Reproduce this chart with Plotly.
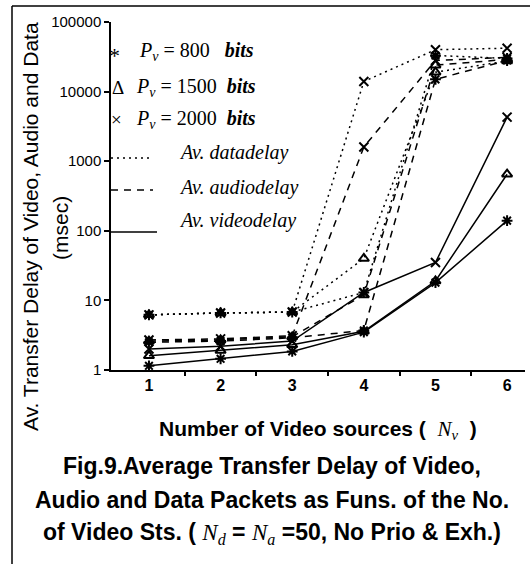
import plotly.graph_objects as go

# ---------------- data ----------------
n_video = [1, 2, 3, 4, 5, 6]
x_ticks = [1, 2, 3, 4, 5, 6]
y_ticks = [1, 10, 100, 1000, 10000, 100000]
y_ticktext = ["1", "10", "100", "1000", "10000", "100000"]

data_800 = [6.2, 6.6, 6.8, 13, 33000, 30000]
data_1500 = [6.2, 6.6, 6.8, 40, 19000, 27500]
data_2000 = [6.2, 6.6, 6.8, 14000, 40000, 42000]

audio_800 = [2.5, 2.6, 2.9, 3.7, 15000, 28000]
audio_1500 = [2.6, 2.7, 3.0, 12, 24000, 29000]
audio_2000 = [2.7, 2.8, 3.1, 1600, 28000, 31000]

video_800 = [1.15, 1.45, 1.85, 3.5, 18, 140]
video_1500 = [1.6, 1.9, 2.3, 3.6, 19, 650]
video_2000 = [2.0, 2.2, 2.6, 13, 35, 4300]

# ---------------- geometry helpers (pixels -> paper) ----------------
W, H = 530, 564
L, R, T, B = 111, 5, 22, 194
PW, PH = W - L - R, H - T - B


def px(x):
    return (x - L) / PW


def py(y):
    return (H - B - y) / PH


DOT = "2px,4px"
DASH = "7px,6px"
sym = {"800": "asterisk-open", "1500": "triangle-up-open", "2000": "x-thin-open"}

series = [
    (data_800, DOT, "800"), (data_1500, DOT, "1500"), (data_2000, DOT, "2000"),
    (audio_800, DASH, "800"), (audio_1500, DASH, "1500"), (audio_2000, DASH, "2000"),
    (video_800, "solid", "800"), (video_1500, "solid", "1500"), (video_2000, "solid", "2000"),
]

fig = go.Figure()
for vals, dash, p in series:
    fig.add_trace(go.Scatter(
        x=n_video, y=vals, mode="lines+markers",
        line=dict(color="black", width=1.5, dash=dash),
        marker=dict(symbol=sym[p], size=9, color="black",
                    line=dict(color="black", width=2)),
        showlegend=False, hoverinfo="skip"))

SANS = "Liberation Sans, Arial, sans-serif"
SERIF = "Liberation Serif, Times New Roman, serif"

ann = []
# y-axis title
ann.append(dict(text="Av. Transfer Delay of Video, Audio and Data", x=px(30), y=py(227),
                textangle=-90, font=dict(family=SANS, size=21, color="black")))
ann.append(dict(text="(msec)", x=px(60), y=py(228), textangle=-90,
                font=dict(family=SANS, size=21, color="black")))
# x-axis title
ann.append(dict(text="<b>Number of Video sources (  </b><span style='font-family:Liberation Serif'><i>N<sub>v</sub></i></span><b>  )</b>",
                x=px(318), y=py(430), font=dict(family=SANS, size=21, color="black")))
# caption
cap = [
    ("<b>Fig.9.Average Transfer Delay of Video,</b>", 466),
    ("<b>Audio and Data Packets as Funs. of the No.</b>", 500),
    ("<b>of Video Sts. ( </b><span style='font-family:Liberation Serif'><i>N<sub>d</sub></i></span><b> = </b>"
     "<span style='font-family:Liberation Serif'><i>N<sub>a</sub></i></span><b> =50, No Prio &amp; Exh.)</b>", 533),
]
for t, yy in cap:
    ann.append(dict(text=t, x=px(272), y=py(yy), font=dict(family=SANS, size=23, color="black")))

# legend (drawn as text + line samples)
leg_font = dict(family=SERIF, size=20, color="black")
ann.append(dict(text="*", x=px(114), y=py(55), font=dict(family=SERIF, size=22, color="black")))
ann.append(dict(text="Δ", x=px(118), y=py(87), font=dict(family=SERIF, size=19, color="black")))
ann.append(dict(text="×", x=px(116), y=py(119), font=dict(family=SERIF, size=19, color="black")))
for t, xx, yy in [
    ("<i>P<sub>v</sub></i> = 800   <b><i>bits</i></b>", 137, 51),
    ("<i>P<sub>v</sub></i> = 1500  <b><i>bits</i></b>", 134, 87),
    ("<i>P<sub>v</sub></i> = 2000  <b><i>bits</i></b>", 134, 119),
    ("<i>Av. datadelay</i>", 177, 153),
    ("<i>Av. audiodelay</i>", 177, 187),
    ("<i>Av. videodelay</i>", 177, 220),
]:
    ann.append(dict(text=t, x=px(xx), y=py(yy), xanchor="left", font=leg_font))

for a in ann:
    a.setdefault("xanchor", "center")
    a.update(xref="paper", yref="paper", yanchor="middle", showarrow=False)

shapes = [
    dict(type="line", xref="paper", yref="paper", x0=px(111), x1=px(153), y0=py(158), y1=py(158),
         line=dict(color="black", width=1.5, dash=DOT)),
    dict(type="line", xref="paper", yref="paper", x0=px(111), x1=px(153), y0=py(190), y1=py(190),
         line=dict(color="black", width=1.5, dash=DASH)),
    dict(type="line", xref="paper", yref="paper", x0=px(111), x1=px(157), y0=py(232), y1=py(232),
         line=dict(color="black", width=1.5)),
    # outer frame (left and top)
    dict(type="line", xref="paper", yref="paper", x0=px(12), x1=px(12), y0=py(6), y1=py(564),
         line=dict(color="black", width=1.5)),
    dict(type="line", xref="paper", yref="paper", x0=px(12), x1=px(530), y0=py(6), y1=py(6),
         line=dict(color="black", width=1.5)),
]

fig.update_layout(
    width=W, height=H, margin=dict(l=L, r=R, t=T, b=B, pad=0),
    paper_bgcolor="white", plot_bgcolor="white",
    annotations=ann, shapes=shapes, showlegend=False,
    xaxis=dict(range=[0.47, 6.25], tickvals=x_ticks, ticktext=[str(v) for v in x_ticks],
               ticks="", showgrid=False, zeroline=False, showline=True, linecolor="black",
               linewidth=2, tickfont=dict(family=SANS, size=16, color="black", weight="bold"),
               minor=dict(tickvals=[1.5, 2.5, 3.5, 4.5, 5.5], ticks="outside", ticklen=4,
                          tickcolor="black", tickwidth=1.5, showgrid=False)),
    yaxis=dict(type="log", range=[0, 5], tickvals=y_ticks, ticktext=y_ticktext,
               ticks="outside", ticklen=5, tickcolor="black", tickwidth=1.5,
               showgrid=False, zeroline=False, showline=True, linecolor="black", linewidth=1.5,
               tickfont=dict(family=SANS, size=15, color="black")),
)

fig.write_html("out.html", config={"displayModeBar": False},
               post_script="document.body.style.margin='0';document.body.style.overflow='hidden';")
